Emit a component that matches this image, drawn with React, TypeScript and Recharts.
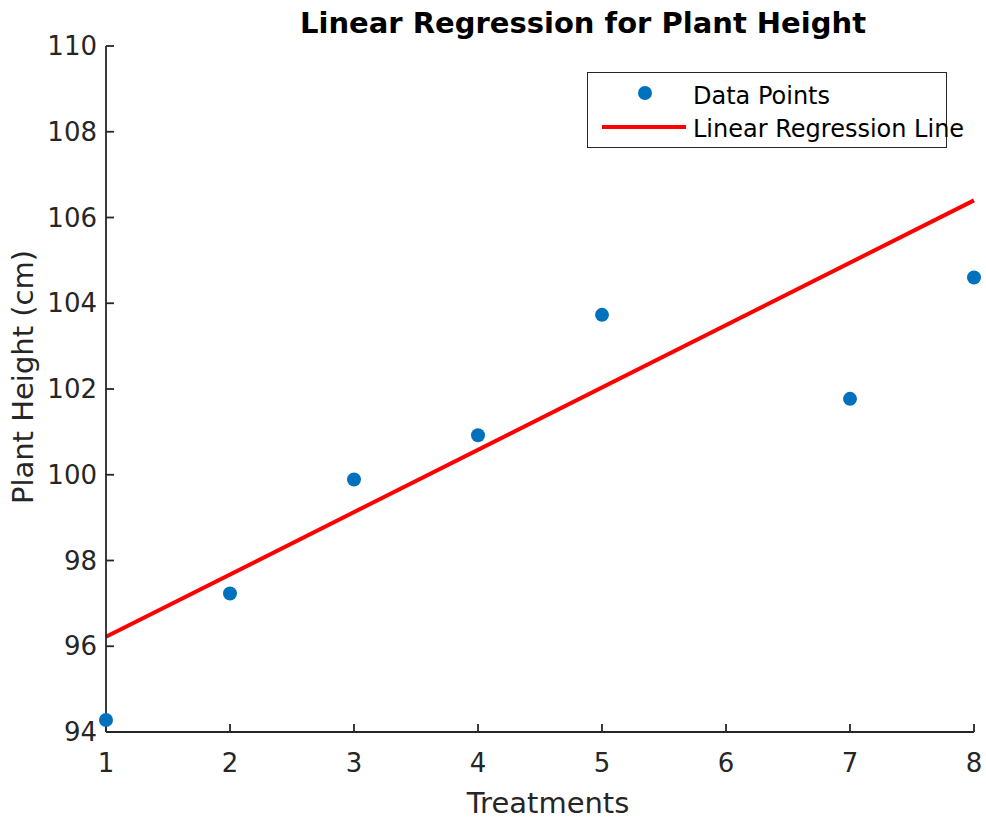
import { ComposedChart, Scatter, Line, XAxis, YAxis, Legend, Label } from 'recharts';

const treatments = [1, 2, 3, 4, 5, 7, 8];
const heights = [94.28, 97.23, 99.89, 100.92, 103.73, 101.77, 104.6];
const fitX = [1, 8];
const fitY = [96.22, 106.4];
const xTicks = [1, 2, 3, 4, 5, 6, 7, 8];
const yTicks = [94, 96, 98, 100, 102, 104, 106, 108, 110];

const points = treatments.map((x, i) => ({ x, y: heights[i] }));
const fitLine = fitX.map((x, i) => ({ x, y: fitY[i] }));

const FONT = '"DejaVu Sans", Verdana, sans-serif';
const AXIS = '#262626';
const BLUE = '#0072BD';
const RED = '#FF0000';

const tickStyle = { fontSize: 26, fill: AXIS, fontFamily: FONT };

const Dot = (props: any) => <circle cx={props.cx} cy={props.cy} r={7} fill={BLUE} />;

const YLabel = () => (
  <text
    transform="translate(33,377) rotate(-90)"
    textAnchor="middle"
    fontSize={29}
    fill={AXIS}
    fontFamily={FONT}
  >
    Plant Height (cm)
  </text>
);

const LegendBox = () => (
  <div
    style={{
      position: 'relative',
      width: 360,
      height: 76,
      boxSizing: 'border-box',
      border: `1.5px solid ${AXIS}`,
      background: '#fff',
      fontFamily: FONT,
      fontSize: 24,
      color: '#000',
    }}
  >
    <svg width={400} height={76} style={{ position: 'absolute', left: 0, top: 0, overflow: 'visible' }}>
      <circle cx={57} cy={20} r={7} fill={BLUE} />
      <line x1={14} x2={98} y1={54} y2={54} stroke={RED} strokeWidth={4} />
      <text x={105} y={31} fontSize={24} fontFamily={FONT}>Data Points</text>
      <text x={105} y={64} fontSize={24} fontFamily={FONT}>Linear Regression Line</text>
    </svg>
  </div>
);

export default function App() {
  return (
    <div style={{ position: 'absolute', left: 0, top: 0, width: 986, height: 820, background: '#fff' }}>
      <svg width={986} height={46} style={{ position: 'absolute', left: 0, top: 0 }}>
        <text x={583} y={33} textAnchor="middle" fontSize={29} fontWeight="bold" fontFamily={FONT} fill="#000">
          Linear Regression for Plant Height
        </text>
      </svg>
      <ComposedChart width={986} height={820} margin={{ top: 46, right: 12, bottom: 0, left: 0 }}>
        <XAxis
          type="number"
          dataKey="x"
          domain={[1, 8]}
          ticks={xTicks}
          height={88}
          tickSize={-8}
          tickMargin={30}
          tick={tickStyle}
          axisLine={{ stroke: AXIS, strokeWidth: 1.8 }}
          tickLine={{ stroke: AXIS, strokeWidth: 1.8 }}
          label={{ value: 'Treatments', position: 'insideBottom', offset: 7, dx: 8, fontSize: 29, fill: AXIS, fontFamily: FONT }}
        />
        <YAxis
          type="number"
          dataKey="y"
          domain={[94, 110]}
          ticks={yTicks}
          width={106}
          tickSize={-8}
          tickMargin={17}
          tick={tickStyle}
          axisLine={{ stroke: AXIS, strokeWidth: 1.8 }}
          tickLine={{ stroke: AXIS, strokeWidth: 1.8 }}
        >
          <Label content={<YLabel />} />
        </YAxis>
        <Line
          data={fitLine}
          dataKey="y"
          type="linear"
          stroke={RED}
          strokeWidth={4}
          dot={false}
          activeDot={false}
          isAnimationActive={false}
          legendType="line"
          name="Linear Regression Line"
        />
        <Scatter data={points} dataKey="y" shape={Dot} isAnimationActive={false} name="Data Points" />
        <Legend
          verticalAlign="middle"
          align="center"
          content={<LegendBox />}
          wrapperStyle={{ left: 587, top: 72, width: 360, height: 76 }}
        />
      </ComposedChart>
    </div>
  );
}
